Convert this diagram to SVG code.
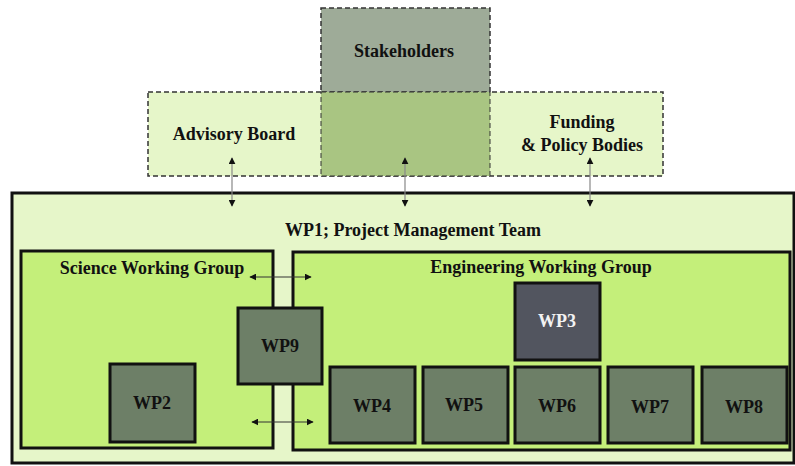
<svg xmlns="http://www.w3.org/2000/svg" width="795" height="466" viewBox="0 0 795 466">
  <style>
    text { font-family: 'Liberation Serif', 'DejaVu Serif', serif; font-weight: 700; font-size: 18px; fill: #111; text-anchor: middle; }
    .ext { fill: #e6f6c9; stroke: #333; stroke-width: 1.5; stroke-dasharray: 5 3; }
    .grp { fill: #c4ef7a; stroke: #111; stroke-width: 3; }
    .wp { fill: #6d7f67; stroke: #111; stroke-width: 3; }
    .wp3 { fill: #52555f; stroke: #111; stroke-width: 3; }
    .link { stroke: #888; stroke-width: 1.2; fill: none; }
    .hlink { stroke: #333; stroke-width: 1; fill: none; }
  </style>
  <defs>
    <marker id="ah" viewBox="0 0 10 10" refX="9" refY="5" markerWidth="7" markerHeight="7" orient="auto-start-reverse" markerUnits="userSpaceOnUse">
      <path d="M0,0 L10,5 L0,10 z" fill="#111"/>
    </marker>
  </defs>

  <!-- project management frame -->
  <g id="wp1">
    <rect x="12" y="193" width="782" height="270" fill="#e6f6c9" stroke="#111" stroke-width="3"/>
    <text x="413" y="236">WP1; Project Management Team</text>
  </g>

  <!-- external bodies -->
  <g id="advisory-row">
    <rect class="ext" x="148" y="92" width="515" height="84"/>
  </g>
  <g id="stakeholders">
    <rect x="321" y="8" width="169" height="84" fill="#9eab98" stroke="#333" stroke-width="1.5" stroke-dasharray="5 3"/>
    <rect x="321" y="92" width="169" height="84" fill="#a9c582" stroke="#333" stroke-width="1" stroke-dasharray="5 3"/>
    <text x="404" y="57">Stakeholders</text>
  </g>
  <g id="advisory-board">
    <text x="234" y="140">Advisory Board</text>
  </g>
  <g id="funding">
    <text x="582" y="128">Funding</text>
    <text x="582" y="151">&amp; Policy Bodies</text>
  </g>

  <!-- working groups -->
  <g id="science-wg">
    <rect class="grp" x="21" y="251" width="252" height="197"/>
    <text x="152" y="274">Science Working Group</text>
  </g>
  <g id="engineering-wg">
    <rect class="grp" x="293" y="252" width="497" height="198"/>
    <text x="541" y="273">Engineering Working Group</text>
  </g>

  <!-- work packages -->
  <g id="wp9"><rect class="wp" x="238" y="308" width="84" height="76"/><text x="280" y="352">WP9</text></g>
  <g id="wp2"><rect class="wp" x="110" y="364" width="85" height="78"/><text x="152" y="409">WP2</text></g>
  <g id="wp3"><rect class="wp3" x="515" y="283" width="85" height="77"/><text x="557" y="327" style="fill:#f2f2f2">WP3</text></g>
  <g id="wp4"><rect class="wp" x="330" y="367" width="85" height="76"/><text x="372" y="412">WP4</text></g>
  <g id="wp5"><rect class="wp" x="423" y="367" width="85" height="76"/><text x="464" y="411">WP5</text></g>
  <g id="wp6"><rect class="wp" x="515" y="367" width="85" height="76"/><text x="557" y="412">WP6</text></g>
  <g id="wp7"><rect class="wp" x="608" y="367" width="85" height="76"/><text x="650" y="413">WP7</text></g>
  <g id="wp8"><rect class="wp" x="702" y="367" width="85" height="76"/><text x="744" y="413">WP8</text></g>

  <!-- connectors -->
  <g id="connectors">
    <line class="link" x1="232" y1="158" x2="232" y2="206" marker-start="url(#ah)" marker-end="url(#ah)"/>
    <line class="link" x1="405" y1="158" x2="405" y2="206" marker-start="url(#ah)" marker-end="url(#ah)"/>
    <line class="link" x1="590" y1="158" x2="590" y2="206" marker-start="url(#ah)" marker-end="url(#ah)"/>
    <line class="hlink" x1="250" y1="277" x2="311" y2="277" marker-start="url(#ah)" marker-end="url(#ah)"/>
    <line class="hlink" x1="252" y1="422" x2="313" y2="422" marker-start="url(#ah)" marker-end="url(#ah)"/>
  </g>
</svg>
